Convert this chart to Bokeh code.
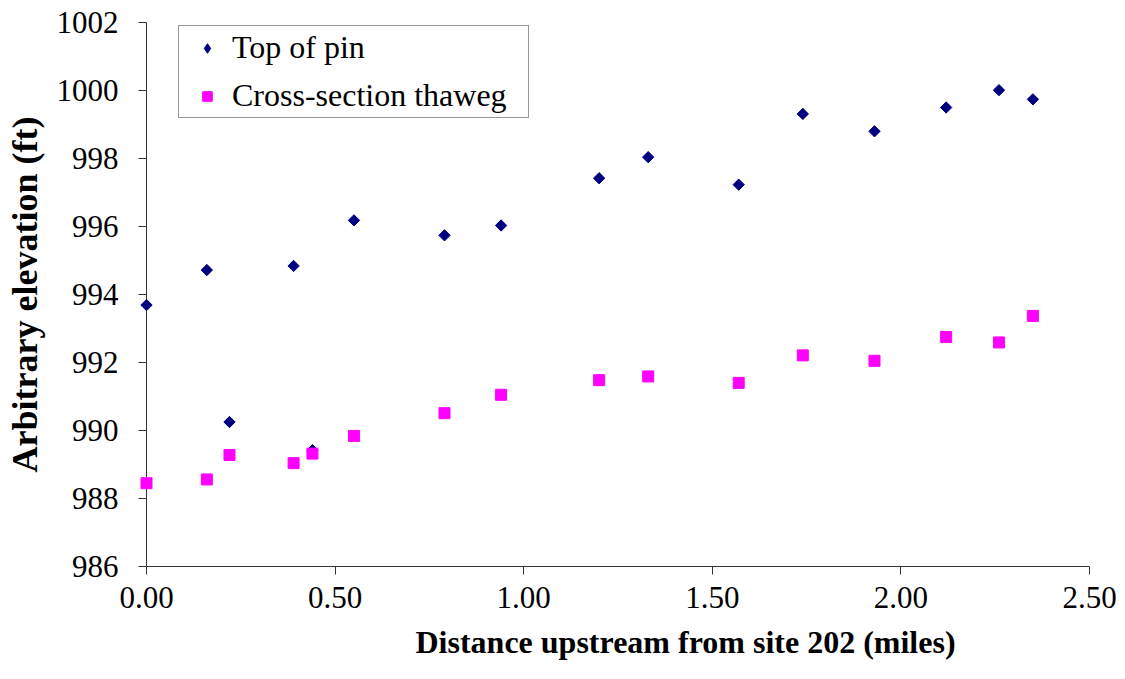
import math
from bokeh.plotting import figure
from bokeh.models import FixedTicker, Legend, LegendItem, Title, PrintfTickFormatter, Range1d
from bokeh.embed import file_html
from bokeh.resources import INLINE

distance = [0.00, 0.16, 0.22, 0.39, 0.44, 0.55, 0.79, 0.94, 1.20, 1.33, 1.57, 1.74, 1.93, 2.12, 2.26, 2.35]
top_of_pin = [993.69, 994.72, 990.25, 994.84, 989.42, 996.18, 995.74, 996.03, 997.42, 998.04, 997.23, 999.31, 998.80, 999.50, 1000.01, 999.74]
thalweg = [988.45, 988.56, 989.28, 989.04, 989.32, 989.84, 990.51, 991.05, 991.48, 991.59, 991.40, 992.21, 992.05, 992.75, 992.59, 993.37]
x_ticks = [0.0, 0.5, 1.0, 1.5, 2.0, 2.5]
y_ticks = [986, 988, 990, 992, 994, 996, 998, 1000, 1002]
series_names = ["Top of pin", "Cross-section thaweg"]
x_title = "Distance upstream from site 202 (miles)"
y_title = "Arbitrary elevation (ft)"

FONT = "Liberation Serif"
AXIS_COLOR = "#333333"

p = figure(width=1125, height=679, output_backend="svg", toolbar_location=None,
           x_range=Range1d(0, 2.5), y_range=Range1d(986, 1002),
           min_border_left=146, min_border_right=36, min_border_top=22, min_border_bottom=113)
p.outline_line_color = None
p.xgrid.visible = False
p.ygrid.visible = False
p.background_fill_color = "white"
p.border_fill_color = "white"

for ax in (p.xaxis[0], p.yaxis[0]):
    ax.axis_line_color = AXIS_COLOR
    ax.major_tick_line_color = AXIS_COLOR
    ax.minor_tick_line_color = None
    ax.major_tick_in = 0
    ax.major_tick_out = 8
    ax.major_label_text_font = FONT
    ax.major_label_text_font_size = "31px"
    ax.major_label_text_color = "black"

p.xaxis.ticker = FixedTicker(ticks=x_ticks)
p.xaxis.formatter = PrintfTickFormatter(format="%.2f")
p.xaxis.major_label_standoff = 12
p.yaxis.ticker = FixedTicker(ticks=y_ticks)
p.yaxis.major_label_standoff = 20

p.yaxis.axis_label = y_title
p.yaxis.axis_label_text_font = FONT
p.yaxis.axis_label_text_font_style = "bold"
p.yaxis.axis_label_text_font_size = "36px"
p.yaxis.axis_label_text_color = "black"
p.yaxis.axis_label_standoff = 9

p.add_layout(Title(text=x_title, align="left", offset=269, text_font=FONT, text_color="black",
                   text_font_style="bold", text_font_size="32px", standoff=22), "below")

r1 = p.scatter(distance, top_of_pin, marker="square", angle=math.pi / 4, size=8,
               fill_color="#000080", line_color="#000080", level="annotation")
r2 = p.scatter(distance, thalweg, marker="square", size=11,
               fill_color="#FF00FF", line_color="#FF00FF", level="overlay")

d1 = p.scatter([math.nan], [math.nan], marker="diamond", fill_color="#000080", line_color="#000080")
d2 = p.scatter([math.nan], [math.nan], marker="square", fill_color="#FF00FF", line_color="#FF00FF")

legend = Legend(items=[LegendItem(label=series_names[0], renderers=[d1]),
                       LegendItem(label=series_names[1], renderers=[d2])],
                location=(32, 448), label_text_font=FONT, label_text_font_size="32px",
                label_text_color="black", label_width=293,
                border_line_color=AXIS_COLOR, border_line_width=1,
                background_fill_color="white", background_fill_alpha=1.0,
                glyph_width=50, glyph_height=24, label_standoff=0,
                padding=3, spacing=11, margin=0)
p.add_layout(legend, "center")

open("out.html", "w").write(file_html(p, INLINE))
